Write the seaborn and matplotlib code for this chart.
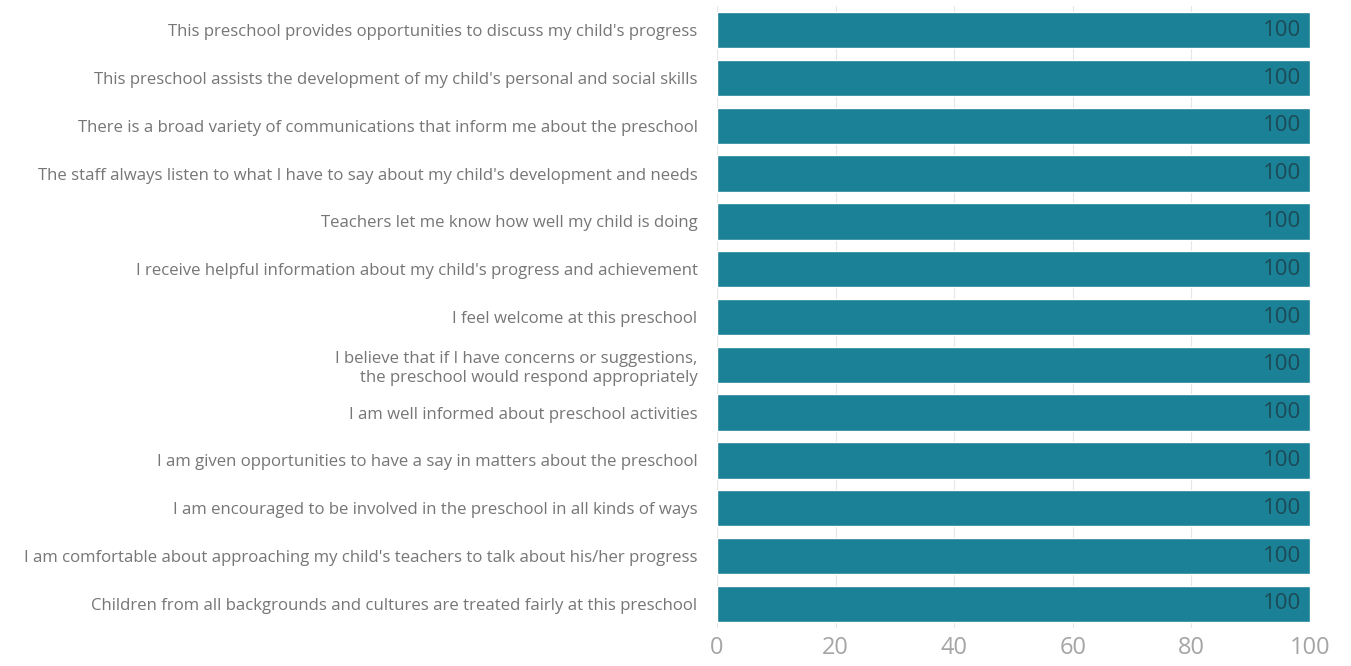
import matplotlib
matplotlib.use("Agg")
import matplotlib.pyplot as plt
import seaborn as sns
import pandas as pd

categories = [
    "This preschool provides opportunities to discuss my child's progress",
    "This preschool assists the development of my child's personal and social skills",
    "There is a broad variety of communications that inform me about the preschool",
    "The staff always listen to what I have to say about my child's development and needs",
    "Teachers let me know how well my child is doing",
    "I receive helpful information about my child's progress and achievement",
    "I feel welcome at this preschool",
    "I believe that if I have concerns or suggestions,\nthe preschool would respond appropriately",
    "I am well informed about preschool activities",
    "I am given opportunities to have a say in matters about the preschool",
    "I am encouraged to be involved in the preschool in all kinds of ways",
    "I am comfortable about approaching my child's teachers to talk about his/her progress",
    "Children from all backgrounds and cultures are treated fairly at this preschool",
]
values = [100] * 13
xticks = [0, 20, 40, 60, 80, 100]

df = pd.DataFrame({"q": categories, "v": values})

sns.set_theme(style="white")
plt.rcParams['font.family'] = ['Open Sans', 'DejaVu Sans']

fig = plt.figure(figsize=(13.51, 6.66), dpi=100)
ax = fig.add_axes([0.5307, 0.0575, 0.4389, 0.933])
sns.barplot(data=df, y="q", x="v", orient="h", color="#1b8196", saturation=1,
            width=0.76, ax=ax, zorder=2)
ax.set_xlim(0, 100)
ax.set_xticks(xticks)
ax.set_xticklabels([str(t) for t in xticks], fontsize=17, color="#a5a5a5")
ax.tick_params(axis="x", length=0, pad=6)
ax.tick_params(axis="y", length=0, pad=14)
for lbl in ax.get_yticklabels():
    lbl.set_fontsize(12.1)
    lbl.set_color("#767676")
    lbl.set_multialignment("right")
    lbl.set_linespacing(1.3)
ax.set_xlabel("")
ax.set_ylabel("")
for s in ax.spines.values():
    s.set_visible(False)
ax.grid(axis="x", color="#e6e6e6", linewidth=0.8, zorder=0)
ax.set_axisbelow(True)
for i, v in enumerate(values):
    ax.text(v - 1.5, i, str(v), ha="right", va="center", fontsize=16,
            color="#1c4a56", zorder=3)

fig.savefig("out.png", dpi=100)
